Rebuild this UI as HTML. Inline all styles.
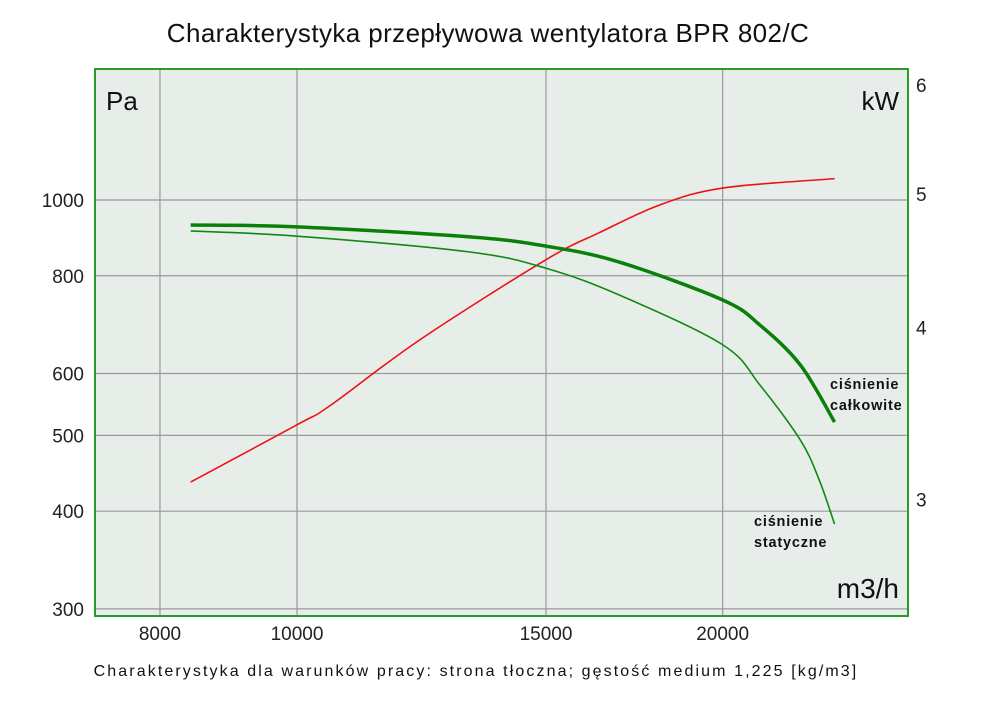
<!DOCTYPE html>
<html><head><meta charset="utf-8"><style>
body{margin:0;background:#fff;width:1000px;height:706px;overflow:hidden;font-family:"Liberation Sans",sans-serif}
svg text{font-family:"Liberation Sans",sans-serif}
</style></head><body>
<svg id="c" width="1000" height="706"></svg>
<script>
const xTicks=[8000,10000,15000,20000];
const yTicks=[300,400,500,600,800,1000];
const kwTicks=[3,4,5,6];
const flow=[8410,10000,13250,15000,16900,20000,21250,22700,24000];
const totalPa=[929,924,897,873,833,745,692,615,520];
const flowS=[8410,10000,13250,15000,16900,20000,21250,22700,23400,24000];
const staticPa=[913,899,858,818,756,653,580,493,439,385];
const flowP=[8410,10000,10550,12220,15000,16380,18060,20000,24000];
const powerKw=[3.09,3.40,3.51,3.92,4.48,4.69,4.91,5.05,5.13];

const X=v=>297+1414*Math.log10(v/10000);
const Y=v=>200-782*Math.log10(v/1000);
const K=v=>194-1378*Math.log10(v/5);
const svg=document.getElementById('c');
const NS='http://www.w3.org/2000/svg';
function mk(t,a,p){const e=document.createElementNS(NS,t);for(const k in a)e.setAttribute(k,a[k]);(p||svg).appendChild(e);return e;}
function txt(s,x,y,size,anchor,name,extra){const e=mk('text',Object.assign({x:x,y:y,'font-size':size,'text-anchor':anchor||'start',fill:'#111'},extra||{}));e.textContent=s;


return e;}
const L=95,T=69,R=908,B=616;
const bg=mk('rect',{x:L,y:T,width:R-L,height:B-T,fill:'#e7eeea'});


xTicks.forEach(v=>{const l=mk('line',{x1:X(v),x2:X(v),y1:T,y2:B,stroke:'#999','stroke-width':1.2});


txt(String(v),X(v),640,19,'middle','x-tick-label',{fill:'#222'});});
yTicks.forEach(v=>{const l=mk('line',{x1:L,x2:R,y1:Y(v),y2:Y(v),stroke:'#999','stroke-width':1.2});


txt(String(v),84,Y(v)+7,19,'end','y-tick-label',{fill:'#222'});});
kwTicks.forEach(v=>{txt(String(v),916,K(v)+7,19,'start','kw-tick-label',{fill:'#222'});});
const fr=mk('rect',{x:L,y:T,width:R-L,height:B-T,fill:'none',stroke:'#2a9a2a','stroke-width':2});


function path(pts){let d='M'+pts[0][0]+','+pts[0][1];
for(let i=0;i<pts.length-1;i++){const p0=pts[Math.max(0,i-1)],p1=pts[i],p2=pts[i+1],p3=pts[Math.min(pts.length-1,i+2)];
d+=' C'+(p1[0]+(p2[0]-p0[0])/6)+','+(p1[1]+(p2[1]-p0[1])/6)+' '+(p2[0]-(p3[0]-p1[0])/6)+','+(p2[1]-(p3[1]-p1[1])/6)+' '+p2[0]+','+p2[1];}
return d;}
const s1=mk('path',{d:path(flowP.map((f,i)=>[X(f),K(powerKw[i])])),fill:'none',stroke:'#ee1111','stroke-width':1.6});


const s2=mk('path',{d:path(flowS.map((f,i)=>[X(f),Y(staticPa[i])])),fill:'none',stroke:'#118811','stroke-width':1.6});


const s3=mk('path',{d:path(flow.map((f,i)=>[X(f),Y(totalPa[i])])),fill:'none',stroke:'#0a800a','stroke-width':3.5});


txt('Charakterystyka przepływowa wentylatora BPR 802/C',488,42,26,'middle','chart-title',{'letter-spacing':'0.4'});
txt('Pa',106,110,26,'start','y-axis-unit');
txt('kW',899,110,26,'end','kw-axis-unit');
txt('m3/h',899,598,28,'end','x-axis-unit');
txt('ciśnienie',830,389,14.5,'start','label-total',{'font-weight':'bold','letter-spacing':'0.8'});
txt('całkowite',830,410,14.5,'start','label-total-2',{'font-weight':'bold','letter-spacing':'0.8'});
txt('ciśnienie',754,526,14.5,'start','label-static',{'font-weight':'bold','letter-spacing':'0.8'});
txt('statyczne',754,547,14.5,'start','label-static-2',{'font-weight':'bold','letter-spacing':'0.8'});
txt('Charakterystyka dla warunków pracy: strona tłoczna; gęstość medium 1,225 [kg/m3]',476,676,16,'middle','footnote',{'letter-spacing':'2.1'});
</script>
</body></html>
